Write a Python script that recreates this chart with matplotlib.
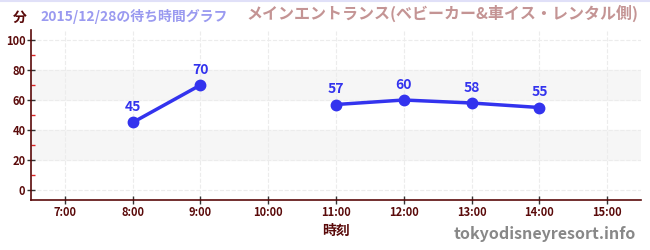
import numpy as np
import matplotlib.pyplot as plt
from matplotlib.ticker import MultipleLocator

plt.rcParams['font.family'] = ['Noto Sans CJK JP', 'DejaVu Sans']

hours = [7, 8, 9, 10, 11, 12, 13, 14, 15]
hour_labels = ['7:00', '8:00', '9:00', '10:00', '11:00', '12:00', '13:00', '14:00', '15:00']
wait_min = [np.nan, 45, 70, np.nan, 57, 60, 58, 55, np.nan]

title_date = '2015/12/28の待ち時間グラフ'
title_place = 'メインエントランス(ベビーカー&車イス・レンタル側)'

dark = '#5a0a0a'
blue = '#3333ee'

fig = plt.figure(figsize=(6.5, 2.5), dpi=100)
ax = fig.add_axes([0.0477, 0.2, 0.9385, 0.68])

for lo, hi in [(20, 40), (60, 80)]:
    ax.axhspan(lo, hi, color='#f6f6f6', zorder=0)

ax.plot(hours, wait_min, color=blue, lw=2.5, marker='o', ms=7.5, zorder=3)
for h, v in zip(hours, wait_min):
    if not np.isnan(v):
        ax.annotate(str(int(v)), (h, v), xytext=(0, 6), textcoords='offset points',
                    ha='center', va='bottom', color=blue, fontsize=10, fontweight='bold')

ax.set_xlim(6.5, 15.5)
ax.set_ylim(-6.7, 106.7)
ax.set_xticks(hours)
ax.set_xticklabels(hour_labels)
ax.set_yticks(range(0, 101, 20))
ax.yaxis.set_minor_locator(MultipleLocator(10))
ax.grid(True, which='major', color='#ececec', ls='--', lw=0.8, zorder=1)

for s in ['top', 'right']:
    ax.spines[s].set_visible(False)
for s in ['left', 'bottom']:
    ax.spines[s].set_color(dark)
    ax.spines[s].set_linewidth(1.2)

ax.tick_params(axis='both', which='major', direction='inout', length=6, width=1,
               color='#333333', labelcolor=dark, labelsize=8)
ax.tick_params(axis='y', which='minor', direction='in', length=3, width=1, color='#dd2222')
ax.tick_params(axis='y', which='major', pad=1)
ax.tick_params(axis='x', which='major', pad=1)
for lab in ax.get_xticklabels() + ax.get_yticklabels():
    lab.set_fontweight('bold')

ax.set_xlabel('時刻', color=dark, fontsize=10, fontweight='bold', labelpad=4)

fig.text(0.03, 0.93, '分', color=dark, fontsize=10, fontweight='bold', ha='center', va='center')
fig.text(0.063, 0.935, title_date, color='#9a9af0', fontsize=10, fontweight='bold', va='center')
fig.text(0.982, 0.945, title_place, color='#c49494', fontsize=11.5, fontweight='bold',
         ha='right', va='center')
fig.text(0.978, 0.065, 'tokyodisneyresort.info', color='#888888', fontsize=11.5,
         fontweight='bold', ha='right', va='center')

fig.add_artist(plt.Line2D([0, 1], [0.996, 0.996], color='#e0e0f8', lw=1.5))

fig.savefig('out.png', dpi=100)
